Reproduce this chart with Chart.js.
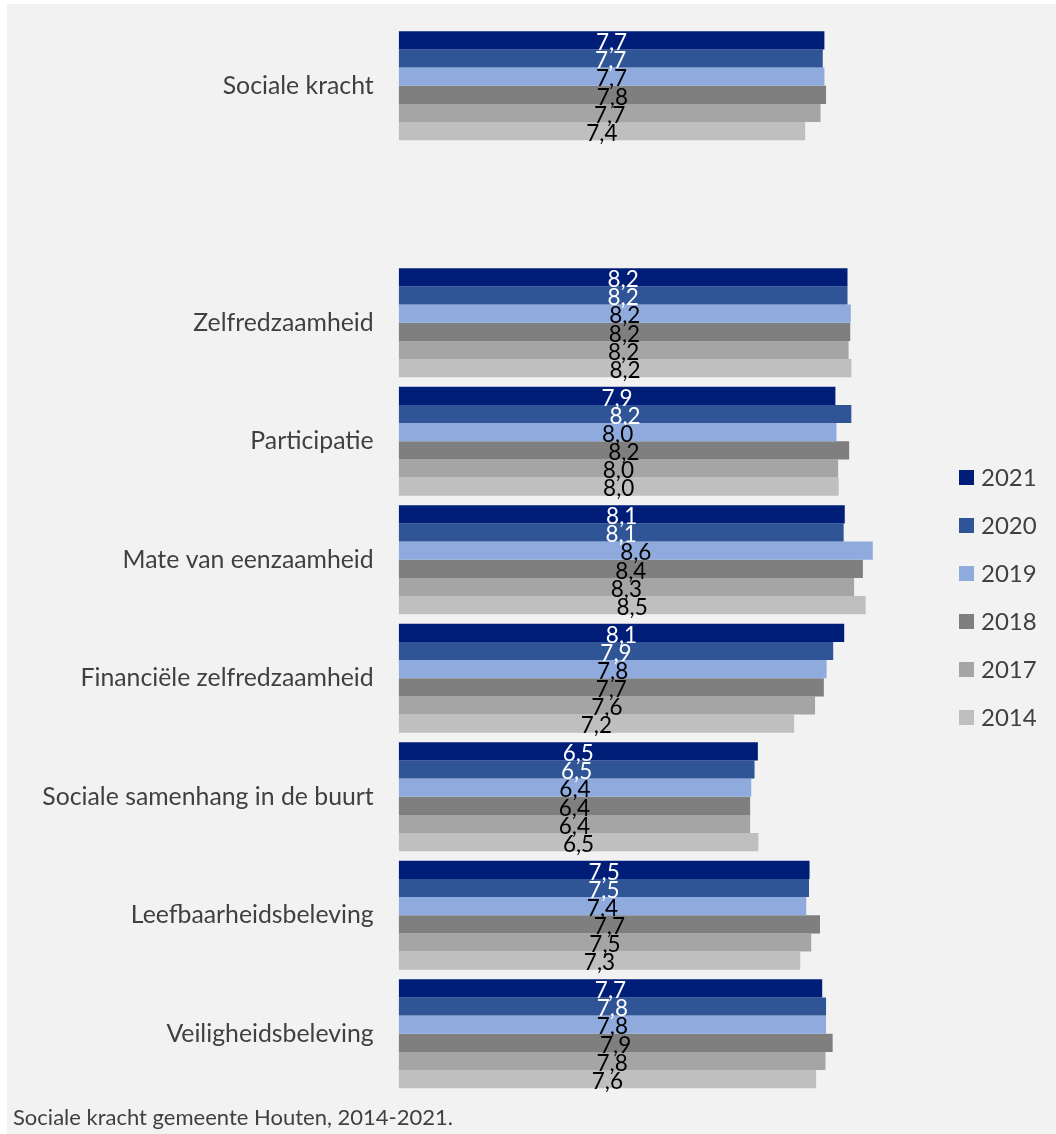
<!DOCTYPE html>
<html>
<head>
<meta charset="utf-8">
<script src="https://cdn.jsdelivr.net/npm/chart.js@4"></script>
<style>
  body { margin: 0; background: #ffffff; }
  #wrap { position: absolute; left: 0; top: 0; width: 1056px; height: 1134px; }
</style>
</head>
<body>
<div id="wrap"><canvas id="barChart" width="1056" height="1134"></canvas></div>
<script>
// Categories (empty one is the gap under Sociale kracht)
const categories = ['Sociale kracht', '', 'Zelfredzaamheid', 'Participatie', 'Mate van eenzaamheid',
    'Financiële zelfredzaamheid', 'Sociale samenhang in de buurt', 'Leefbaarheidsbeleving', 'Veiligheidsbeleving'];

const years = ['2021', '2020', '2019', '2018', '2017', '2014'];

// Scores per year
const y2021 = [7.74, null, 8.16, 7.94, 8.11, 8.10, 6.53, 7.47, 7.70];
const y2020 = [7.71, null, 8.16, 8.23, 8.09, 7.90, 6.47, 7.46, 7.77];
const y2019 = [7.74, null, 8.22, 7.96, 8.62, 7.78, 6.41, 7.41, 7.77];
const y2018 = [7.77, null, 8.21, 8.19, 8.44, 7.73, 6.39, 7.66, 7.89];
const y2017 = [7.67, null, 8.18, 7.99, 8.28, 7.57, 6.39, 7.50, 7.76];
const y2014 = [7.39, null, 8.23, 8.00, 8.49, 7.19, 6.54, 7.30, 7.59];

const series = [y2021, y2020, y2019, y2018, y2017, y2014];
const colors = ['#001E78', '#2F5597', '#8FAADC', '#7F7F7F', '#A5A5A5', '#BFBFBF'];
const labelColors = ['#ffffff', '#ffffff', '#000000', '#000000', '#000000', '#000000'];

const fontFamily = 'Lato, "Open Sans", sans-serif';
const textGrey = '#404040';

// gray panel behind everything
const panelPlugin = {
    id: 'panel',
    beforeDraw(chart) {
        const ctx = chart.ctx;
        ctx.save();
        ctx.fillStyle = '#f2f2f2';
        ctx.fillRect(7, 4, chart.width - 7, chart.height - 4);
        ctx.restore();
    }
};

// value labels centered in each bar
const valueLabels = {
    id: 'valueLabels',
    afterDatasetsDraw(chart) {
        const ctx = chart.ctx;
        ctx.save();
        ctx.font = '22.5px ' + fontFamily;
        ctx.textAlign = 'center';
        ctx.textBaseline = 'middle';
        chart.data.datasets.forEach((ds, i) => {
            const meta = chart.getDatasetMeta(i);
            meta.data.forEach((bar, j) => {
                const v = ds.data[j];
                if (v === null) return;
                ctx.fillStyle = labelColors[i];
                ctx.fillText(v.toFixed(1).replace('.', ','), (bar.x + bar.base) / 2, bar.y + 2.5);
            });
        });
        ctx.restore();
    }
};

// legend column on the right + footer text
const sideLegend = {
    id: 'sideLegend',
    afterDraw(chart) {
        const ctx = chart.ctx;
        ctx.save();
        ctx.font = '24px ' + fontFamily;
        ctx.textBaseline = 'middle';
        ctx.textAlign = 'left';
        chart.data.datasets.forEach((ds, i) => {
            const top = 470 + i * 48;
            ctx.fillStyle = ds.backgroundColor;
            ctx.fillRect(959, top, 15, 15);
            ctx.fillStyle = textGrey;
            ctx.fillText(ds.label, 981, top + 8);
        });
        ctx.font = '22px ' + fontFamily;
        ctx.textBaseline = 'alphabetic';
        ctx.fillText('Sociale kracht gemeente Houten, 2014-2021.', 13, 1125);
        ctx.restore();
    }
};

const ctx = document.getElementById('barChart').getContext('2d');
const barChart = new Chart(ctx, {
    type: 'bar',
    data: {
        labels: categories,
        datasets: series.map((data, i) => ({
            label: years[i],
            data: data,
            backgroundColor: colors[i],
            borderWidth: 0,
            categoryPercentage: 0.918,
            barPercentage: 1
        }))
    },
    options: {
        indexAxis: 'y',
        responsive: false,
        animation: false,
        layout: {
            padding: { top: 26.5, bottom: 41, left: 0, right: 107.3 }
        },
        scales: {
            x: {
                display: false,
                min: 0,
                max: 10
            },
            y: {
                grid: { display: false, drawTicks: false },
                border: { display: false },
                ticks: {
                    padding: 25,
                    color: textGrey,
                    font: { family: fontFamily, size: 24.8 }
                },
                afterFit(scale) {
                    scale.width = 398.7;
                    // no extra room above/below for the labels
                    scale.paddingTop = 0;
                    scale.paddingBottom = 0;
                }
            }
        },
        plugins: {
            legend: { display: false },
            tooltip: { enabled: false }
        }
    },
    plugins: [panelPlugin, valueLabels, sideLegend]
});
</script>
</body>
</html>
